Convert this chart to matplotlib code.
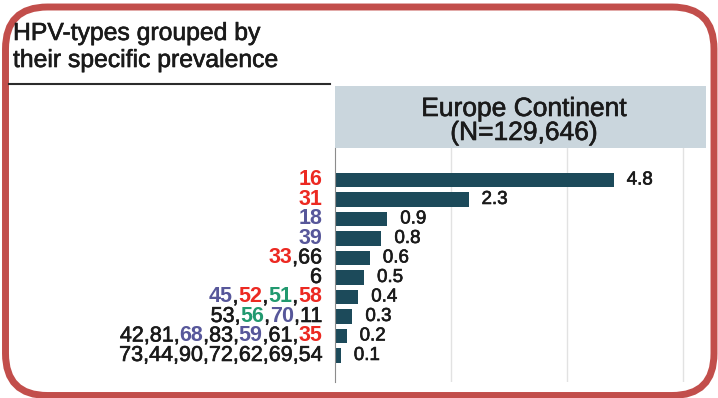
import matplotlib.pyplot as plt
import matplotlib.patheffects as pe
from matplotlib.patches import FancyBboxPatch, Rectangle

plt.rcParams['font.family'] = ['Liberation Sans', 'DejaVu Sans']

# HPV type groups (top to bottom) and their prevalence in %
groups = ["16", "31", "18", "39", "33,66", "6", "45,52,51,58",
          "53,56,70,11", "42,81,68,83,59,61,35", "73,44,90,72,62,69,54"]
prevalence = [4.8, 2.3, 0.9, 0.8, 0.6, 0.5, 0.4, 0.3, 0.2, 0.1]

red_types = ["16", "31", "33", "52", "58", "35"]
purple_types = ["18", "39", "45", "68", "59", "70"]
green_types = ["51", "56"]

RED = '#ec2922'
PURPLE = '#57579a'
GREEN = '#21996f'
TXT = '#1a1a1a'
BAR = '#1c4a5a'

# slightly heavier strokes for the regular-weight text
heavy = [pe.withStroke(linewidth=0.45, foreground=TXT)]


def type_colour(t):
    if t in red_types:
        return RED
    if t in purple_types:
        return PURPLE
    if t in green_types:
        return GREEN
    return None


def pieces(group):
    # split a label into (text, colour, bold) chunks, merging plain runs
    out = []
    types = group.split(",")
    for k, t in enumerate(types):
        toks = [t] if k == 0 else [",", t]
        for s in toks:
            c = type_colour(s)
            if c is None:
                if out and out[-1][1] == TXT:
                    out[-1] = (out[-1][0] + s, TXT, 'normal')
                else:
                    out.append((s, TXT, 'normal'))
            else:
                out.append((s, c, 'bold'))
    return out


fig = plt.figure(figsize=(7.18, 3.98), dpi=100)

# background layer in pixel units
bg = fig.add_axes([0, 0, 1, 1])
bg.set_xlim(0, 718)
bg.set_ylim(398, 0)
bg.axis('off')

border = FancyBboxPatch((5.5, 7), 708.5, 388.5,
                        boxstyle="round,pad=0,rounding_size=42",
                        fc='white', ec='#c24e4b', lw=5)
bg.add_patch(border)

bg.text(13, 40, "HPV-types grouped by", fontsize=17.8, color=TXT,
        va='baseline', path_effects=heavy)
bg.text(13, 67, "their specific prevalence", fontsize=17.8, color=TXT,
        va='baseline', path_effects=heavy)
bg.plot([9, 330], [84, 84], color='#2b2b2b', lw=1.5)

bg.add_patch(Rectangle((335, 86), 371, 62, fc='#cad6dd', ec='none'))
bg.text(524, 116, "Europe Continent", fontsize=19, color=TXT,
        ha='center', va='baseline', path_effects=heavy)
bg.text(524, 140, "(N=129,646)", fontsize=19, color=TXT,
        ha='center', va='baseline', path_effects=heavy)

# bar chart
ax = fig.add_axes([335 / 718, 1 - 382 / 398, 371 / 718, 234 / 398])
ax.set_facecolor('none')
y = list(range(len(groups)))
ax.barh(y, prevalence, height=0.72, color=BAR)
ax.set_ylim(len(groups) + 0.36, -1.64)
ax.set_xlim(0, 6.39)
ax.set_xticks([2, 4, 6])
ax.xaxis.grid(True, color='#e2e2e2', lw=1)
ax.set_axisbelow(True)
ax.tick_params(length=0, labelbottom=False, labelleft=False)
for s in ['top', 'right', 'bottom']:
    ax.spines[s].set_visible(False)
ax.spines['left'].set_color('#8c8c8c')
ax.spines['left'].set_linewidth(0.8)

for i, v in enumerate(prevalence):
    ax.annotate(f"{v}", xy=(v, i), xytext=(13, 0), textcoords='offset pixels',
                va='center', fontsize=13.5, color=TXT, path_effects=heavy)

# multi-coloured category labels, built right to left
for i, g in enumerate(groups):
    parts = pieces(g)
    prev = None
    for s, c, w in reversed(parts):
        fx = heavy if w == 'normal' else None
        if prev is None:
            prev = ax.annotate(s, xy=(0, i), xytext=(-13, 0),
                               textcoords='offset pixels', ha='right',
                               va='center', fontsize=15.5, color=c,
                               fontweight=w, annotation_clip=False,
                               path_effects=fx)
        else:
            prev = ax.annotate(s, xy=(0, 0), xycoords=prev, ha='right',
                               va='bottom', fontsize=15.5, color=c,
                               fontweight=w, annotation_clip=False,
                               path_effects=fx)

fig.savefig("out.png", dpi=100)
